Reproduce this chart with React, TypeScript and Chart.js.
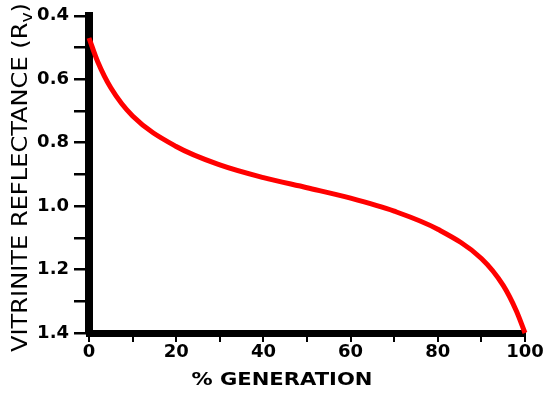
import React, { useEffect, useRef } from "react";
import { Chart, registerables } from "chart.js";

Chart.register(...registerables);

const generation = [0, 2, 5, 10, 20, 30, 40, 50, 60, 70, 80, 90, 95, 98, 100];
const reflectance = [0.47, 0.545, 0.627, 0.716, 0.812, 0.87, 0.91, 0.942, 0.975, 1.016, 1.073, 1.165, 1.25, 1.33, 1.4];
const yTickLabels = ["0.4", "0.6", "0.8", "1.0", "1.2", "1.4"];
const xTickLabels = ["0", "20", "40", "60", "80", "100"];
const yTitleMain = "VITRINITE REFLECTANCE (R";
const yTitleSub = "v";
const yTitleEnd = ")";
const xTitle = "% GENERATION";

const labelFor = (labels: string[], value: number) =>
  labels.find((l) => Math.abs(parseFloat(l) - value) < 1e-6) ?? "";

const titlesPlugin = {
  id: "titles",
  afterDraw(chart: any) {
    const ctx = chart.ctx as CanvasRenderingContext2D;
    ctx.save();
    ctx.fillStyle = "#000";
    ctx.textBaseline = "alphabetic";
    ctx.textAlign = "left";
    const mainFont = "21px 'DejaVu Sans'";
    const subFont = "15px 'DejaVu Sans'";
    ctx.font = mainFont;
    const w1 = ctx.measureText(yTitleMain).width;
    const w3 = ctx.measureText(yTitleEnd).width;
    ctx.font = subFont;
    const w2 = ctx.measureText(yTitleSub).width;
    const total = w1 + w2 + w3;
    const s = 349 / total;
    ctx.translate(27, 352);
    ctx.rotate(-Math.PI / 2);
    ctx.scale(s, 1);
    ctx.font = mainFont;
    ctx.fillText(yTitleMain, 0, 0);
    ctx.font = subFont;
    ctx.fillText(yTitleSub, w1, 5);
    ctx.font = mainFont;
    ctx.fillText(yTitleEnd, w1 + w2, 0);
    ctx.restore();

    ctx.save();
    ctx.fillStyle = "#000";
    ctx.font = "bold 17px 'DejaVu Sans'";
    ctx.textBaseline = "alphabetic";
    ctx.textAlign = "center";
    const xw = ctx.measureText(xTitle).width;
    ctx.translate(282, 385);
    ctx.scale(181 / xw, 1);
    ctx.fillText(xTitle, 0, 0);
    ctx.restore();
  },
};

export default function App() {
  const canvasRef = useRef<HTMLCanvasElement | null>(null);

  useEffect(() => {
    const canvas = canvasRef.current;
    if (!canvas) return;
    const points = generation.map((g, i) => ({ x: g, y: reflectance[i] }));
    const chart = new Chart(canvas, {
      type: "line",
      data: {
        datasets: [
          {
            data: points,
            borderColor: "#ff0000",
            borderWidth: 5,
            pointRadius: 0,
            fill: false,
            cubicInterpolationMode: "monotone",
            clip: 10,
          } as any,
        ],
      },
      options: {
        animation: false,
        responsive: false,
        maintainAspectRatio: false,
        devicePixelRatio: 1,
        layout: { padding: { left: 0, top: 14, right: 25, bottom: 0 } },
        plugins: {
          legend: { display: false },
          tooltip: { enabled: false },
          title: { display: false },
        },
        scales: {
          x: {
            type: "linear",
            min: 0,
            max: 100,
            afterFit: (scale: any) => {
              scale.height = 60;
            },
            ticks: {
              stepSize: 10,
              autoSkip: false,
              maxRotation: 0,
              padding: 0,
              color: "#000",
              font: { family: "'DejaVu Sans'", size: 18, weight: "bold" },
              callback: (v: any) => labelFor(xTickLabels, Number(v)),
            },
            grid: {
              display: true,
              drawOnChartArea: false,
              drawTicks: true,
              tickLength: 9,
              lineWidth: 2,
              color: "#000",
            },
            border: { display: true, width: 7, color: "#000" },
          },
          y: {
            type: "linear",
            min: 0.4,
            max: 1.4,
            reverse: true,
            afterFit: (scale: any) => {
              scale.width = 89;
            },
            ticks: {
              stepSize: 0.1,
              autoSkip: false,
              padding: 5,
              color: "#000",
              font: { family: "'DejaVu Sans'", size: 18, weight: "bold" },
              callback: (v: any) => labelFor(yTickLabels, Number(v)),
            },
            grid: {
              display: true,
              drawOnChartArea: false,
              drawTicks: true,
              tickLength: 15,
              lineWidth: 2.5,
              color: "#000",
            },
            border: { display: true, width: 8, color: "#000" },
          },
        },
      },
      plugins: [titlesPlugin],
    });
    return () => chart.destroy();
  }, []);

  return (
    <div style={{ position: "fixed", left: 0, top: 0, width: 550, height: 393, background: "#fff" }}>
      <canvas ref={canvasRef} width={550} height={393} style={{ display: "block", width: 550, height: 393 }} />
    </div>
  );
}
